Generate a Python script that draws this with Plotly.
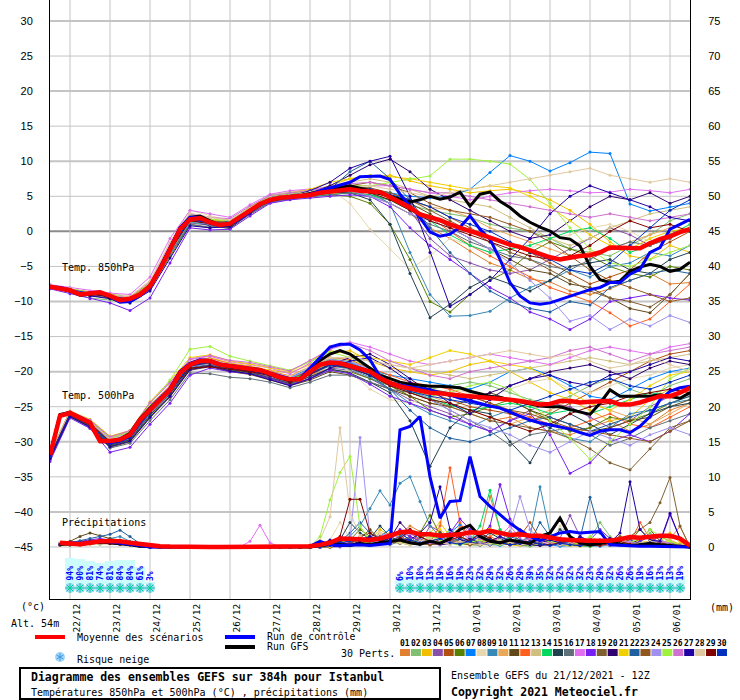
import plotly.graph_objects as go

# ---------------- DATA ----------------
H6 = list(range(0, 385, 6))      # 65 steps (temperatures of mean/control/GFS)
H12 = list(range(0, 385, 12))    # 33 steps (temperatures of perturbations)
HP = list(range(6, 385, 6))      # 64 steps (precipitation)

DATE_HOURS = [12, 36, 60, 84, 108, 132, 156, 180, 204, 228, 252, 276, 300, 324, 348, 372]
DATE_LABELS = ["22/12", "23/12", "24/12", "25/12", "26/12", "27/12", "28/12", "29/12",
               "30/12", "31/12", "01/01", "02/01", "03/01", "04/01", "05/01", "06/01"]

T850_MEAN = [-7.9,-8.1,-8.4,-9.0,-8.9,-8.7,-9.2,-9.8,-9.6,-9.0,
             -7.8,-5.4,-2.6,0.3,1.7,1.9,1.3,0.9,1.1,2.0,
             2.9,3.9,4.5,4.8,4.9,5.0,5.2,5.5,5.7,5.9,
             6.0,5.8,5.7,5.6,4.9,4.1,3.4,2.4,2.0,1.6,
             1.0,0.6,0.05,-0.4,-0.9,-1.4,-1.9,-2.2,-2.7,-3.3,
             -3.7,-4.0,-3.7,-3.5,-3.4,-3.0,-2.3,-2.3,-2.3,-2.4,
             -1.7,-1.1,-0.7,-0.1,0.3]
T850_CTRL = [-7.9,-8.0,-8.3,-9.0,-8.8,-8.6,-9.3,-10.1,-10.0,-9.2,
             -8.0,-5.2,-2.5,0.5,2.0,2.0,1.2,0.8,1.0,1.8,
             2.8,3.8,4.5,4.8,4.8,5.0,5.3,5.8,6.2,6.5,
             7.0,7.8,7.9,7.9,7.4,5.3,3.6,2.0,-0.1,-0.7,
             -0.4,0.6,2.2,0.3,-1.1,-4.0,-7.3,-9.2,-10.2,-10.4,
             -10.2,-9.7,-9.2,-8.8,-8.3,-8.0,-7.3,-7.3,-6.1,-5.4,
             -3.0,-2.3,0.3,1.0,1.7]
T850_GFS = [-7.9,-8.2,-8.5,-9.1,-9.0,-8.8,-9.4,-10.0,-9.8,-9.1,
            -7.7,-5.2,-2.4,0.5,2.0,2.2,1.5,0.8,1.0,1.9,
            2.8,3.8,4.4,4.7,5.0,5.1,5.4,5.8,6.1,6.3,
            6.5,6.2,5.8,5.4,5.0,4.6,4.2,4.5,5.0,4.6,
            4.9,5.6,3.6,5.3,5.6,4.3,3.4,2.2,1.3,0.6,
            0.05,-0.9,-1.1,-2.1,-5.0,-6.9,-7.3,-7.1,-5.7,-5.1,
            -4.7,-5.0,-5.7,-5.4,-4.4]

T500_MEAN = [-31.9,-26.3,-25.9,-26.6,-27.3,-29.9,-29.9,-29.7,-29.0,-26.9,
             -25.4,-24.0,-22.6,-20.2,-19.0,-18.5,-18.5,-19.0,-19.2,-19.4,
             -19.6,-19.8,-20.3,-20.8,-21.1,-21.1,-20.0,-19.0,-18.7,-18.8,
             -19.2,-19.6,-20.0,-20.9,-21.6,-22.1,-22.4,-22.8,-23.0,-23.1,
             -23.3,-23.4,-23.5,-23.6,-23.8,-23.9,-24.0,-24.2,-24.4,-24.7,
             -24.6,-24.2,-24.2,-24.4,-24.3,-24.2,-24.2,-24.7,-24.7,-24.4,
             -24.0,-23.5,-23.5,-23.0,-22.3]
T500_CTRL = [-32.0,-26.2,-25.8,-26.5,-27.2,-29.8,-30.1,-29.9,-29.2,-27.0,
             -25.3,-23.8,-22.4,-20.0,-18.8,-18.3,-18.4,-18.9,-19.1,-19.3,
             -19.5,-19.7,-20.2,-20.6,-21.0,-21.0,-19.5,-18.0,-16.5,-16.1,
             -16.1,-16.9,-18.3,-20.7,-21.6,-21.9,-22.1,-22.3,-22.6,-23.0,
             -23.3,-23.8,-24.2,-24.6,-24.9,-25.2,-25.8,-26.4,-26.9,-27.3,
             -27.6,-27.8,-28.2,-28.7,-29.1,-28.5,-28.3,-28.3,-28.7,-27.8,
             -26.4,-24.0,-22.8,-22.3,-22.1]
T500_GFS = [-31.9,-26.1,-25.8,-26.7,-27.4,-30.0,-30.0,-29.6,-28.8,-26.7,
            -25.2,-23.8,-22.4,-20.0,-18.9,-18.4,-18.6,-19.1,-19.3,-19.5,
            -19.7,-19.9,-20.4,-20.9,-21.2,-21.0,-19.6,-18.4,-17.5,-17.0,
            -17.5,-18.5,-19.5,-20.5,-21.0,-21.5,-21.8,-22.0,-22.1,-22.1,
            -22.2,-22.3,-22.8,-23.2,-23.5,-23.7,-24.0,-24.3,-24.6,-24.9,
            -25.0,-25.0,-25.4,-25.8,-26.1,-24.5,-22.6,-23.5,-23.5,-23.5,
            -23.5,-23.3,-23.5,-23.8,-23.0]

PR_MEAN = [0.6,0.5,0.4,0.6,0.8,0.8,0.8,0.6,0.4,0.2,
           0.1,0.05,0,0,0,0,0,0,0,0,
           0,0.05,0.05,0.05,0.05,0.1,0.3,0.6,1.2,1.2,
           1.1,1.0,1.2,1.6,2.1,2.2,1.8,1.8,1.6,1.7,
           1.8,2.1,2.0,2.3,2.0,1.7,1.8,1.6,1.6,1.3,
           1.1,1.0,0.9,0.9,0.9,0.9,1.1,1.4,1.3,1.5,
           1.6,1.6,1.2,0.2]
PR_CTRL = [0.5,0.6,0.5,0.6,0.8,0.7,0.6,0.4,0.2,0,
           0,0,0,0,0,0,0,0,0,0,
           0,0,0,0,0,0.1,0.8,0.3,0.2,0.3,
           0.3,0.2,0.3,0.5,16.7,17.2,18.6,10.0,4.1,6.5,
           6.6,12.9,7.2,5.8,4.6,3.4,2.4,1.5,0.9,1.5,
           2.0,2.2,2.0,2.1,2.2,0.3,0.2,0.1,0.1,0.1,
           0.1,0.1,0.1,0]
PR_GFS = [0.4,0.5,0.4,0.5,0.7,0.6,0.5,0.3,0.1,0,
          0,0,0,0,0,0,0,0,0,0,
          0,0,0,0,0,0,0.2,0.4,0.3,0.2,
          0.5,0.3,0.6,0.8,1.0,0.6,0.4,0.8,0.5,1.2,
          2.5,3.1,1.5,0.8,0.6,1.0,0.8,0.5,1.5,2.0,
          4.1,1.5,0.6,0.3,0.5,0.8,0.4,0.2,0.3,0.5,
          0.3,0.2,0.1,0]

PERT_LABELS = ["01","02","03","04","05","06","07","08","09","10",
               "11","12","13","14","15","16","17","18","19","20",
               "21","22","23","24","25","26","27","28","29","30"]
PERT_COLORS = ["#e08030","#80c070","#f0c000","#8850a8","#b05010","#5a8000","#0080ff","#e8d8b0","#3888b8","#e8a858",
               "#604818","#ff6020","#d0c080","#00d860","#204050","#607078","#e070f0","#7820f0","#806030","#300070",
               "#f0d000","#2060a0","#905820","#a090f0","#a0f040","#d070d0","#2000a0","#e0c8a0","#800000","#0030c0"]

T850_PERTS = [
 [-7.8,-8.3,-9.0,-9.1,-9.8,-7.6,-2.2,2.0,1.2,0.8,3.2,4.6,5.5,5.4,6.2, 6.4,5.5,4.0,2.5,0.5,-1.0,-2.8,-4.5,-5.5,-6.8,-7.2,-8.5,-9.0,-8.2,-7.0,-6.0,-7.5,-7.3],
 [-7.6,-8.6,-9.5,-9.8,-10.2,-8.3,-3.0,1.5,1.0,1.3,2.5,4.2,4.8,5.0,5.6, 5.8,5.0,4.5,3.8,3.0,2.5,2.0,1.0,0.5,0.0,-1.0,-2.5,-3.0,-3.5,-2.0,-0.5,1.5,2.5],
 [-8.0,-8.5,-8.7,-9.0,-9.4,-7.5,-2.4,2.2,1.6,1.4,3.5,5.0,5.2,5.6,6.5, 7.5,7.8,8.0,7.2,6.5,6.0,5.5,5.8,6.0,5.5,4.5,3.0,1.0,-1.5,-3.5,-4.0,-2.0,-3.0],
 [-8.1,-8.4,-9.1,-9.5,-10.0,-8.0,-3.2,1.2,0.8,0.5,2.4,4.1,4.6,5.0,5.5, 5.6,5.2,4.5,3.0,-1.0,-3.5,-4.5,-5.5,-6.0,-5.5,-4.0,-2.5,-1.0,0.5,-0.5,-2.0,-1.0,0.5],
 [-7.9,-8.2,-8.8,-9.3,-9.7,-7.9,-2.8,1.8,1.5,1.0,2.8,4.4,5.0,5.3,5.8, 6.2,6.0,5.5,4.5,3.5,2.0,0.5,-1.0,-2.0,-3.0,-4.5,-6.0,-7.5,-6.5,-5.5,-3.0,-1.5,0.0],
 [-7.7,-8.5,-9.0,-9.4,-9.9,-8.2,-3.5,1.0,0.5,0.9,2.6,4.3,4.7,5.1,5.2, 5.0,4.0,1.0,-4.0,-10.0,-11.5,-9.0,-7.0,-5.5,-3.0,-1.5,-2.5,-3.5,-5.0,-6.0,-6.5,-5.0,-5.5],
 [-7.8,-8.3,-8.9,-9.2,-9.6,-7.7,-2.3,1.9,1.4,1.5,3.3,4.9,5.0,5.4,5.9, 6.3,6.0,5.5,5.0,4.8,5.0,6.0,8.4,10.8,10.0,8.6,9.8,11.3,11.1,3.9,2.9,3.5,4.0],
 [-7.9,-8.2,-8.6,-8.9,-9.2,-7.0,-1.5,3.0,2.2,1.5,3.0,4.5,5.0,5.5,6.0, 4.0,0.3,-2.5,-5.4,-3.5,-1.0,-2.0,-3.0,-4.0,-2.5,-1.0,-0.5,0.5,1.0,0.0,-1.5,-0.5,1.0],
 [-7.8,-8.4,-8.9,-9.1,-9.8,-7.8,-2.5,1.6,1.2,1.0,2.8,4.6,4.9,5.3,5.7, 5.9,5.5,4.0,-3.0,-9.0,-12.1,-12.0,-11.4,-9.5,-8.0,-7.0,-5.5,-6.5,-5.0,-4.5,-3.0,-3.5,-2.0],
 [-8.0,-8.6,-9.0,-9.5,-9.9,-8.1,-2.9,1.4,1.1,1.2,3.1,4.7,5.2,5.0,5.4, 5.5,5.8,5.0,4.2,3.5,3.0,2.0,0.5,-0.5,-1.5,-2.5,-3.5,-3.0,-2.5,-1.5,-0.5,0.5,1.5],
 [-7.9,-8.5,-9.2,-9.4,-9.7,-7.9,-2.7,1.5,1.0,0.6,2.5,4.4,4.8,5.0,5.5, 5.8,5.5,5.0,4.0,2.5,0.5,-1.0,-2.5,-4.0,-5.5,-6.0,-7.5,-8.0,-9.5,-11.0,-11.6,-9.0,-6.0],
 [-7.8,-8.2,-8.7,-9.0,-9.5,-7.6,-2.5,1.8,1.3,1.2,3.0,4.4,4.9,5.3,5.8, 6.2,6.0,5.0,3.5,2.0,0.0,-2.0,-3.5,-5.0,-6.5,-8.0,-9.0,-10.0,-11.6,-13.5,-12.5,-10.0,-7.5],
 [-7.9,-8.3,-8.8,-9.3,-9.6,-7.4,-2.0,2.4,1.8,1.4,3.4,5.2,5.6,5.9,6.4, 7.0,7.5,7.0,6.0,5.0,4.5,4.0,3.5,2.0,0.5,-1.0,-2.0,-1.0,0.5,1.5,2.5,3.0,3.5],
 [-7.7,-8.4,-8.9,-9.3,-9.8,-8.0,-3.0,1.3,1.0,1.0,2.7,4.3,4.7,5.0,5.3, 5.5,5.2,4.5,3.0,1.5,-0.5,-2.0,-3.0,-2.5,-2.0,-1.0,0.0,0.5,-1.0,-3.0,-2.0,-0.5,1.0],
 [-7.9,-8.5,-9.1,-9.3,-9.7,-7.8,-2.6,1.6,0.8,0.4,2.6,4.5,5.0,5.2,5.6, 5.5,4.5,1.0,-6.0,-12.3,-10.4,-8.0,-6.5,-7.5,-8.5,-7.0,-5.0,-4.5,-4.0,-5.5,-6.0,-4.0,-3.0],
 [-8.0,-8.6,-9.0,-9.4,-9.9,-8.3,-3.3,1.0,0.6,0.8,2.5,4.2,4.6,4.9,5.3, 5.5,5.0,4.0,2.5,1.0,0.0,-1.5,-2.5,-3.5,-4.0,-5.0,-5.5,-4.0,-2.5,-1.5,-2.0,-1.0,0.5],
 [-7.6,-8.0,-8.5,-8.8,-9.0,-6.5,-1.0,3.0,2.5,2.0,3.8,5.3,5.8,6.0,6.3, 6.5,6.5,6.5,6.0,5.5,5.0,4.5,5.0,5.5,5.8,6.0,5.8,5.5,5.6,6.0,5.8,5.5,6.0],
 [-8.2,-8.9,-9.6,-10.2,-11.3,-9.5,-4.5,0.5,0.2,0.3,2.2,4.0,4.5,4.8,5.0, 5.2,5.0,3.5,0.5,-2.0,-4.0,-6.0,-8.0,-9.5,-11.5,-12.5,-14.0,-12.5,-10.0,-9.5,-9.0,-9.5,-9.8],
 [-7.8,-8.3,-8.9,-9.2,-9.5,-7.7,-2.4,1.8,1.3,1.1,3.0,4.7,5.1,5.4,6.0, 6.4,6.2,5.5,4.5,3.0,1.5,0.0,-1.5,-3.0,-4.0,-5.5,-7.0,-8.5,-9.5,-10.0,-10.8,-9.0,-6.0],
 [-7.9,-8.4,-9.0,-9.3,-9.6,-7.8,-2.6,1.7,1.3,1.1,2.9,4.5,5.0,5.5,6.5, 8.0,9.5,10.3,8.5,6.0,4.5,3.0,1.5,0.0,-1.0,-0.5,1.5,3.5,5.0,4.5,5.5,4.0,5.0],
 [-8.0,-8.5,-8.8,-9.1,-9.5,-7.6,-2.2,2.0,1.6,1.4,3.2,4.8,5.4,6.0,7.0, 7.5,8.0,7.8,7.5,7.0,6.5,6.0,6.5,6.2,5.0,3.5,1.5,-0.5,-2.0,-2.5,-1.0,0.0,0.5],
 [-7.8,-8.4,-8.9,-9.2,-9.7,-7.9,-2.7,1.5,1.0,1.5,3.3,4.9,5.3,5.5,6.0, 8.5,10.0,7.5,4.5,0.5,-3.0,-6.0,-8.5,-10.0,-11.0,-11.5,-10.0,-10.5,-8.0,-7.0,-6.0,-5.5,-6.0],
 [-7.9,-8.3,-8.8,-9.0,-9.4,-7.5,-2.3,1.9,1.5,1.2,3.0,4.6,5.0,5.3,5.8, 6.5,7.0,6.5,5.5,4.0,3.0,2.5,2.0,1.0,0.0,-1.5,-3.5,-5.5,-7.0,-8.0,-9.0,-10.0,-9.5],
 [-7.8,-8.4,-9.0,-9.4,-9.9,-8.0,-2.9,1.4,1.0,0.9,2.7,4.4,4.8,5.2,5.6, 5.8,5.0,4.0,2.5,1.5,0.5,-1.0,-2.5,-4.5,-7.0,-9.5,-12.8,-12.0,-14.0,-12.5,-13.5,-12.0,-13.0],
 [-7.7,-8.2,-8.7,-9.0,-9.4,-7.4,-2.1,2.1,1.7,1.6,3.4,5.0,5.4,5.8,6.2, 6.5,6.5,7.0,7.5,7.9,10.3,10.3,10.0,9.6,7.4,4.0,0.5,-2.5,-4.5,-5.0,-4.0,-3.0,-2.0],
 [-7.9,-8.4,-8.8,-9.1,-9.4,-7.2,-1.8,2.5,2.0,1.8,3.6,5.1,5.5,5.8,6.2, 6.8,7.0,6.5,6.0,5.5,5.5,5.0,4.5,4.0,3.5,3.0,2.5,2.0,2.5,2.0,1.5,2.0,2.5],
 [-7.9,-8.5,-9.2,-9.6,-10.2,-8.5,-3.8,0.8,0.5,0.7,2.6,4.5,5.0,5.8,7.0, 9.0,10.0,10.7,5.0,-3.0,-10.7,-9.0,-7.0,-4.0,-1.0,2.5,5.0,6.5,5.5,4.5,3.5,2.0,1.5],
 [-7.8,-8.3,-8.8,-9.1,-9.3,-7.1,-1.7,2.6,2.0,1.6,3.3,4.8,5.2,5.6,6.0, 6.3,6.5,6.0,5.5,5.0,5.5,6.0,6.5,7.0,7.5,8.0,8.5,9.0,8.0,7.5,7.0,7.5,7.0],
 [-7.9,-8.4,-9.0,-9.3,-9.8,-8.0,-2.8,1.5,1.1,0.9,2.8,4.5,4.9,5.2,5.7, 5.9,5.5,4.5,3.0,1.5,0.5,-0.5,-1.5,-2.5,-3.5,-4.0,-3.5,-2.0,0.0,1.5,0.5,1.0,0.0],
 [-7.8,-8.3,-8.9,-9.3,-9.7,-7.8,-2.5,1.7,1.2,1.0,2.9,4.6,5.0,5.4,5.9, 6.2,6.0,5.2,4.5,3.5,2.0,1.0,0.0,-1.5,-3.0,-4.0,-5.5,-6.0,-4.5,-2.0,0.5,3.0,4.5],
]

T500_PERTS = [
 [-32.0,-26.0,-27.5,-30.2,-29.2,-25.8,-22.8,-19.2,-18.7,-19.5,-19.8,-20.5,-21.5,-20.5,-19.5, -19.0,-20.5,-22.0,-23.5,-24.5,-25.0,-26.0,-27.0,-26.5,-28.0,-28.5,-29.0,-28.0,-27.0,-28.5,-27.5,-25.5,-24.5],
 [-32.2,-25.8,-27.0,-29.6,-28.8,-25.2,-22.3,-18.8,-18.2,-19.0,-19.4,-20.0,-20.8,-19.5,-18.2, -18.5,-19.5,-21.0,-22.0,-22.5,-22.0,-21.5,-22.0,-23.0,-24.0,-24.5,-23.5,-22.0,-21.0,-22.5,-23.5,-22.0,-21.0],
 [-31.8,-26.2,-27.4,-30.0,-29.1,-25.5,-22.5,-18.6,-18.0,-18.8,-19.2,-19.8,-20.2,-19.0,-17.5, -17.0,-18.5,-19.5,-20.0,-20.5,-20.0,-19.0,-18.5,-20.0,-21.5,-23.0,-24.0,-25.5,-27.0,-26.5,-24.0,-22.5,-23.0],
 [-32.5,-26.1,-27.6,-30.5,-29.6,-26.0,-23.1,-19.4,-19.0,-19.6,-20.0,-20.8,-21.6,-20.8,-19.5, -19.8,-21.0,-22.5,-24.0,-25.0,-26.0,-27.5,-28.5,-27.0,-25.5,-24.5,-25.0,-26.5,-28.0,-27.0,-25.0,-23.5,-22.5],
 [-31.9,-25.9,-27.2,-29.8,-29.0,-25.3,-22.5,-18.9,-18.4,-19.1,-19.5,-20.2,-21.0,-19.8,-18.5, -18.8,-20.0,-21.5,-22.5,-23.0,-24.0,-25.0,-25.5,-26.0,-27.0,-26.0,-24.5,-23.0,-21.5,-20.0,-18.5,-17.5,-17.0],
 [-32.1,-26.3,-27.8,-30.6,-29.8,-26.4,-23.4,-19.6,-19.2,-19.8,-20.2,-21.0,-21.8,-21.0,-19.8, -20.0,-21.0,-22.0,-23.5,-25.5,-26.5,-26.0,-25.0,-24.0,-25.5,-27.0,-28.5,-28.0,-26.5,-27.0,-26.0,-24.5,-23.5],
 [-31.8,-25.9,-27.1,-29.6,-28.8,-25.0,-22.2,-18.7,-18.3,-19.0,-19.5,-20.0,-20.8,-19.6,-18.3, -18.7,-19.8,-20.5,-21.0,-21.5,-22.0,-22.5,-21.5,-20.0,-19.5,-20.5,-22.0,-23.5,-24.0,-22.5,-21.0,-20.0,-19.5],
 [-32.0,-26.0,-27.5,-30.1,-29.0,-25.6,-22.6,-19.0,-18.6,-19.3,-19.6,-20.2,-21.2,-20.0,-18.5, -20.0,-22.5,-24.0,-24.5,-23.5,-22.5,-23.0,-23.5,-22.5,-21.5,-21.0,-22.5,-23.0,-22.0,-21.0,-20.5,-19.5,-19.0],
 [-32.3,-26.2,-27.7,-30.4,-29.5,-25.9,-22.9,-19.3,-18.8,-19.4,-19.8,-20.6,-21.4,-20.4,-19.2, -19.6,-20.8,-22.5,-24.5,-26.0,-27.0,-28.0,-26.5,-25.5,-27.0,-28.0,-29.5,-30.0,-28.0,-26.0,-25.5,-24.5,-24.0],
 [-31.9,-26.0,-27.3,-29.9,-29.1,-25.4,-22.7,-19.0,-18.5,-19.2,-19.7,-20.4,-21.1,-20.1,-18.8, -19.3,-20.2,-21.5,-22.5,-23.5,-24.5,-25.5,-26.5,-27.5,-26.5,-25.5,-24.0,-24.5,-25.5,-26.5,-27.5,-26.0,-24.5],
 [-32.4,-26.4,-27.9,-30.8,-30.0,-26.6,-23.6,-19.8,-19.3,-20.0,-20.4,-21.2,-22.0,-21.2,-20.0, -20.5,-21.5,-22.5,-23.5,-24.5,-25.0,-24.0,-23.0,-24.0,-25.5,-26.5,-27.5,-28.5,-28.0,-27.0,-26.5,-25.0,-24.0],
 [-31.7,-25.8,-27.0,-29.4,-28.6,-24.8,-22.0,-18.6,-18.1,-18.9,-19.3,-19.9,-20.6,-19.3,-18.0, -18.3,-19.5,-20.5,-21.5,-22.0,-22.5,-23.5,-24.5,-25.5,-26.5,-27.5,-28.0,-27.0,-26.0,-27.5,-28.0,-26.5,-25.0],
 [-31.8,-26.1,-27.2,-29.7,-28.9,-25.2,-22.4,-18.8,-18.3,-19.1,-19.5,-20.1,-20.7,-19.4,-18.1, -18.0,-18.5,-19.0,-19.5,-20.0,-20.5,-21.0,-20.5,-20.0,-19.5,-19.0,-18.5,-18.0,-18.5,-19.0,-18.5,-18.0,-17.5],
 [-32.0,-26.0,-27.4,-30.0,-29.0,-25.5,-22.6,-19.0,-18.5,-19.3,-19.7,-20.3,-21.1,-20.0,-18.7, -19.2,-20.3,-21.8,-22.8,-23.8,-24.8,-25.5,-25.0,-24.5,-25.0,-26.0,-25.5,-26.0,-25.0,-24.0,-23.0,-23.5,-22.5],
 [-32.3,-26.3,-27.8,-30.5,-29.7,-26.2,-23.2,-19.5,-19.1,-19.7,-20.1,-20.9,-21.7,-20.7,-19.6, -20.2,-21.5,-23.0,-27.0,-33.5,-28.0,-25.5,-26.0,-30.0,-33.0,-28.0,-26.0,-27.5,-29.0,-27.5,-26.0,-25.0,-24.5],
 [-32.6,-26.5,-28.0,-30.9,-30.2,-27.0,-24.0,-20.2,-20.3,-20.8,-21.0,-21.5,-22.3,-21.5,-20.5, -20.5,-21.5,-22.5,-23.0,-24.0,-25.5,-27.0,-28.5,-30.5,-29.0,-28.5,-28.0,-29.0,-30.5,-29.5,-28.0,-27.0,-26.0],
 [-31.7,-25.7,-26.9,-29.3,-28.5,-24.5,-21.5,-18.3,-17.8,-18.6,-19.0,-19.5,-20.3,-18.8,-16.5, -15.8,-16.5,-17.5,-18.5,-19.0,-18.5,-18.0,-17.5,-18.0,-18.5,-19.0,-18.0,-17.0,-16.5,-17.0,-17.5,-16.5,-16.0],
 [-32.8,-26.6,-28.1,-31.5,-30.8,-27.5,-24.5,-20.5,-19.5,-20.0,-20.3,-21.0,-21.9,-21.0,-19.8, -20.3,-21.8,-23.5,-24.5,-25.5,-26.5,-27.5,-28.5,-27.0,-26.0,-29.0,-34.5,-33.0,-30.0,-29.0,-30.0,-28.5,-26.0],
 [-32.0,-26.1,-27.5,-30.1,-29.3,-25.7,-22.8,-19.1,-18.6,-19.3,-19.7,-20.4,-21.3,-20.2,-18.9, -19.4,-20.6,-22.0,-23.0,-24.0,-25.0,-26.0,-27.0,-27.5,-28.0,-28.5,-29.5,-31.0,-33.0,-34.0,-31.0,-28.0,-27.0],
 [-32.2,-26.2,-27.6,-30.3,-29.4,-25.8,-22.9,-19.2,-18.7,-19.5,-19.9,-20.5,-21.3,-20.3,-19.0, -18.0,-17.5,-19.0,-21.0,-23.0,-23.5,-24.0,-23.0,-22.0,-21.0,-20.0,-19.5,-19.0,-20.0,-21.0,-19.5,-18.5,-19.0],
 [-31.6,-25.6,-26.8,-29.2,-28.4,-24.3,-21.3,-18.0,-17.6,-18.5,-18.9,-19.4,-20.0,-18.5,-17.0, -17.5,-18.0,-18.5,-19.0,-18.0,-17.0,-17.5,-18.5,-19.0,-19.5,-21.0,-23.0,-24.5,-25.5,-24.0,-22.0,-20.5,-20.0],
 [-32.1,-26.1,-27.6,-30.2,-29.3,-25.7,-22.8,-19.1,-18.6,-19.4,-19.8,-20.5,-21.4,-20.4,-19.1, -19.5,-20.5,-22.5,-25.5,-28.0,-29.5,-30.0,-29.0,-28.0,-27.0,-26.5,-27.5,-28.5,-27.5,-26.5,-25.5,-24.5,-23.5],
 [-31.9,-25.9,-27.3,-29.9,-29.0,-25.4,-22.5,-18.9,-18.4,-19.2,-19.6,-20.2,-21.0,-19.9,-18.6, -19.1,-20.0,-21.0,-22.0,-22.5,-23.0,-23.5,-24.5,-25.5,-26.0,-27.0,-28.0,-28.5,-29.0,-29.5,-30.0,-28.5,-27.0],
 [-31.8,-25.9,-27.2,-29.8,-28.9,-25.3,-22.4,-18.8,-18.4,-19.1,-19.5,-20.1,-20.9,-19.7,-18.3, -18.6,-19.6,-21.0,-22.5,-24.0,-25.5,-27.0,-28.0,-29.0,-30.5,-31.5,-30.0,-28.5,-29.5,-30.5,-29.0,-28.0,-29.0],
 [-31.6,-25.7,-26.9,-29.4,-28.6,-24.6,-21.2,-16.8,-16.4,-17.8,-18.5,-19.2,-19.8,-18.6,-17.2, -18.0,-19.5,-21.0,-22.5,-23.5,-23.0,-22.0,-21.5,-22.5,-24.5,-27.0,-29.5,-32.5,-30.0,-27.5,-25.0,-21.0,-19.5],
 [-31.7,-25.7,-26.9,-29.3,-28.4,-24.4,-21.6,-18.2,-17.7,-18.4,-18.7,-19.3,-19.9,-18.4,-16.8, -16.0,-17.0,-18.5,-19.5,-20.5,-21.0,-20.0,-19.5,-19.0,-18.5,-18.0,-17.0,-16.5,-17.5,-18.5,-17.5,-17.0,-16.5],
 [-32.4,-26.4,-27.9,-30.7,-29.9,-26.5,-23.5,-19.7,-19.2,-19.9,-20.3,-21.1,-22.0,-21.0,-19.5, -18.5,-18.0,-19.5,-21.5,-22.5,-24.5,-26.0,-24.0,-22.0,-21.0,-20.5,-21.5,-22.0,-20.5,-20.0,-19.0,-18.0,-18.5],
 [-31.8,-25.8,-27.1,-29.6,-28.8,-25.0,-22.2,-18.6,-18.2,-19.0,-19.4,-20.0,-20.7,-19.3,-18.0, -18.0,-18.5,-19.0,-19.5,-19.0,-18.5,-18.0,-17.5,-17.0,-17.5,-18.0,-17.5,-18.5,-19.5,-19.0,-18.0,-19.0,-20.0],
 [-32.0,-26.0,-27.4,-30.0,-29.1,-25.5,-22.6,-19.5,-19.3,-19.6,-20.0,-20.6,-21.5,-20.4,-19.0, -19.5,-20.5,-22.0,-23.0,-24.0,-24.5,-25.5,-26.5,-27.5,-28.5,-27.5,-26.0,-25.0,-24.5,-23.5,-23.0,-22.5,-23.0],
 [-32.1,-26.1,-27.5,-30.2,-29.3,-25.7,-22.8,-19.1,-18.6,-19.4,-19.8,-20.5,-21.3,-20.3,-19.0, -19.4,-20.5,-21.8,-22.8,-23.5,-24.0,-24.5,-25.0,-25.5,-24.5,-23.5,-22.5,-21.5,-21.0,-22.0,-22.5,-21.5,-20.5],
]

PR_PERTS = [
 [0.4,0.3,0.2,0.4,0.6,0.5,0.7,0.4,0.2,0, 0,0,0,0,0,0,0,0,0,0, 0,0,0,0,0,0,0.2,0.5,0.3,0.8,
  1.5,2.0,1.2,0.6,1.8,3.0,2.2,1.0,0.6,1.5, 2.8,1.5,1.0,7.2,2.5,1.0,0.5,1.2,0.8,0.3, 0.5,1.0,0.6,0.3,0.2,0.5,1.0,0.6,0.4,0.8, 1.5,1.2,2.9,0],
 [0.3,0.2,0.3,0.5,0.4,0.6,0.5,0.3,0.1,0, 0,0,0,0,0,0,0,0,0,0, 0,0,0,0,0,0,0,0.3,0.6,1.0,
  0.8,0.5,1.5,2.5,1.2,0.8,0.5,0.3,0.8,1.2, 0.6,0.3,0.2,0.5,1.0,0.4,0.2,0.1,0.3,0.6, 0.3,0.2,0.5,1.2,3.5,1.5,0.6,0.3,0.8,2.0, 1.0,0.5,0.2,0],
 [0.5,0.6,0.8,1.0,0.9,0.7,0.6,0.4,0.2,0, 0,0,0,0,0,0,0,0,0,0, 0,0,0,0,0,0,0,0,0.2,0.5,
  0.3,1.0,2.5,1.5,0.8,0.5,1.2,2.0,3.5,1.5, 0.8,0.5,1.5,2.8,1.2,0.6,0.3,0.8,1.5,0.6, 0.3,0.2,0.1,0.3,0.6,0.4,0.2,0.5,1.0,0.5, 0.8,2.0,0.6,0],
 [0.2,0.3,0.3,0.5,0.6,0.5,0.8,0.6,0.3,0.1, 0,0,0,0,0,0,0,0,0,0, 0,0,0,0,0,0,0,0,0,0.3,
  0.8,1.5,0.6,1.2,2.0,1.0,0.5,3.0,2.2,1.0, 0.5,0.8,1.8,1.0,0.5,0.3,0.6,1.5,0.8,0.3, 1.2,4.5,1.5,0.6,0.3,0.2,0.5,0.8,0.4,0.2, 0.3,0.6,0.2,0],
 [0.4,0.5,0.4,0.6,0.8,0.7,0.5,0.4,0.2,0, 0,0,0,0,0,0,0,0,0,0, 0,0,0,0,0,0,0.1,0.4,0.8,0.6,
  1.2,0.8,2.0,1.5,0.6,0.3,0.5,1.2,0.8,0.4, 1.0,2.5,1.2,0.6,0.3,0.5,1.5,3.5,1.2,0.5, 0.3,0.6,0.2,0.1,0.3,0.5,1.0,0.6,0.3,0.8, 1.5,0.8,0.3,0],
 [0.3,0.4,0.5,0.7,0.6,0.5,0.4,0.3,0.1,0, 0,0,0,0,0,0,0,0,0,0, 0,0,0,0,0,0,0,0.2,0.5,1.0,
  2.5,1.5,0.8,0.5,1.0,0.6,2.0,4.5,1.8,0.6, 0.3,1.0,0.5,0.3,0.8,2.2,0.8,0.4,0.2,0.5, 0.8,0.4,1.2,0.6,0.3,0.5,0.2,0.8,2.5,1.0, 0.5,0.3,0.1,0],
 [0.5,0.4,0.6,0.8,1.0,0.8,0.6,0.5,0.2,0, 0,0,0,0,0,0,0,0,0,0, 0,0,0,0,0,0,0,0,0.3,0.2,
  0.5,0.8,1.5,2.5,1.0,0.6,0.3,0.8,1.2,2.0, 3.2,1.5,0.6,0.4,0.2,0.5,0.3,0.2,0.6,0.3, 0.1,0.2,0.4,0.2,0.1,0.3,0.5,0.3,0.2,0.4, 0.6,0.3,0.1,0],
 [0.6,0.5,0.4,0.5,0.7,0.6,0.5,0.3,0.1,0, 0,0,0,0,0,0,0,0,0,0, 0,0,0,0,0,0,0.3,1.0,3.5,1.2,
  0.5,0.8,2.0,1.5,0.6,0.3,0.8,1.2,0.6,0.4, 1.0,1.8,0.8,0.5,0.3,1.2,0.6,0.3,0.2,0.5, 3.0,1.2,0.5,0.3,0.2,0.6,0.4,0.2,0.3,0.8, 0.5,0.2,0.1,0],
 [0.4,0.3,0.5,0.6,0.9,1.2,1.5,0.8,0.3,0, 0,0,0,0,0,0,0,0,0,0, 0,0,0,0,0,0,0,0.2,0.6,1.5,
  3.0,5.5,8.0,6.0,9.1,10.0,6.5,3.0,1.5,0.8, 0.5,1.0,2.0,1.2,0.6,0.3,0.8,1.5,8.6,2.0, 0.8,0.4,0.2,0.6,1.0,0.5,0.3,0.2,0.4,0.8, 0.5,0.3,0.1,0],
 [0.3,0.4,0.3,0.5,0.6,0.7,0.5,0.4,0.2,0, 0,0,0,0,0,0,0,0,0,0, 0,0,0,0,0,0,0.2,0.5,0.3,0.6,
  1.0,1.5,0.8,0.4,1.2,2.5,1.5,0.8,0.5,1.0, 0.6,0.3,0.8,1.5,2.2,1.0,0.5,0.8,0.4,0.2, 0.5,1.2,0.6,0.3,0.2,0.8,1.5,0.6,0.3,0.2, 0.6,1.0,0.4,0],
 [0.5,0.8,1.5,2.0,1.6,1.2,1.0,0.6,0.3,0, 0,0,0,0,0,0,0,0,0,0, 0,0,0,0,0,0,0,0.2,0.8,0.5,
  1.2,2.5,1.0,0.6,1.5,0.8,0.4,1.0,2.0,1.2, 0.6,0.3,0.8,0.5,0.3,1.0,2.5,1.2,0.6,0.3, 0.5,0.8,0.4,0.2,0.6,1.0,0.5,0.3,1.2,2.5, 0.8,0.4,0.2,0],
 [0.3,0.3,0.4,0.5,0.6,0.5,0.6,0.4,0.2,0, 0,0,0,0,0,0,0,0,0,0, 0,0,0,0,0,0,0,0,0.2,0.5,
  0.8,1.2,0.6,1.0,2.2,1.5,1.0,0.8,3.0,11.3, 3.5,1.2,0.6,1.5,0.8,0.4,0.3,0.8,1.2,0.6, 0.3,0.5,1.5,0.8,0.4,0.2,0.3,0.6,3.5,1.2, 0.6,0.3,0.2,0],
 [0.4,0.5,0.6,0.5,0.4,0.5,0.4,0.3,0.1,0, 0,0,0,0,0,0,0,0,0,0, 0,0,0,0,0,0,0,0.3,0.2,0.5,
  0.8,0.5,1.2,0.8,0.5,1.0,0.6,0.3,0.5,0.8, 1.5,0.8,0.4,0.2,0.5,0.3,0.2,0.6,1.0,0.5, 0.3,0.2,0.4,0.8,0.5,0.3,0.2,0.1,0.3,0.5, 0.8,0.4,0.2,0],
 [0.3,0.4,0.4,0.6,0.7,0.6,0.5,0.3,0.2,0, 0,0,0,0,0,0,0,0,0,0, 0,0,0,0,0,0,0,0,0.3,0.6,
  1.0,0.6,0.8,1.5,0.8,0.5,1.2,2.0,1.0,2.5, 1.5,0.8,3.0,8.1,2.5,1.0,0.5,0.3,0.8,0.5, 0.3,0.6,0.2,0.1,0.4,0.2,0.5,0.3,0.2,0.6, 0.3,0.2,0.1,0],
 [0.5,0.4,0.5,0.7,0.8,0.6,0.5,0.4,0.2,0, 0,0,0,0,0,0,0,0,0,0, 0,0,0,0,0,0,0,0.3,1.0,3.5,
  2.0,1.2,3.0,1.5,0.8,2.5,1.5,0.6,0.4,1.2, 0.8,0.5,1.0,2.0,1.2,0.6,0.3,0.5,1.0,0.6, 2.5,1.5,0.8,0.4,0.3,0.2,0.5,1.0,0.5,0.3, 0.2,0.5,0.3,0],
 [0.4,0.4,0.5,0.6,0.5,0.6,0.5,0.3,0.1,0, 0,0,0,0,0,0,0,0,0,0, 0,0,0,0,0,0,0,0.2,0.5,0.3,
  0.6,1.0,0.5,0.3,0.8,1.5,0.8,0.4,0.6,1.2, 0.8,0.5,0.3,0.6,1.5,1.0,0.5,0.3,0.2,0.6, 1.0,0.5,0.3,0.2,0.4,0.8,0.5,0.3,0.2,0.4, 0.3,0.2,0.1,0],
 [0.3,0.4,0.5,0.6,0.7,0.5,0.4,0.3,0.1,0, 0,0,0,0,0,0,0,0,0,0.8, 3.1,0.6,0,0,0,0,0,0.2,0.5,0.8,
  1.0,0.6,1.5,2.0,1.2,0.8,0.5,0.3,0.6,1.0, 2.0,1.2,0.8,0.5,1.5,3.0,1.2,0.6,0.3,0.5, 0.8,0.5,0.3,0.6,1.0,0.5,0.3,0.2,0.4,0.6, 0.3,0.2,0.1,0],
 [0.5,0.6,0.8,1.0,1.2,1.0,0.8,0.5,0.2,0, 0,0,0,0,0,0,0,0,0,0, 0,0,0,0,0,0,0,0,0.3,0.5,
  1.2,0.8,0.5,1.0,2.5,1.5,0.8,0.5,1.0,2.0, 4.0,2.5,1.5,3.0,8.9,4.0,2.0,1.0,0.6,0.3, 0.5,0.8,0.4,1.0,2.5,1.2,0.6,0.3,0.8,1.5, 0.6,4.6,1.2,0],
 [0.4,0.5,0.6,0.8,0.7,0.6,0.5,0.3,0.2,0, 0,0,0,0,0,0,0,0,0,0, 0,0,0,0,0,0,0,0.2,0.4,0.3,
  0.6,0.8,1.5,0.8,0.5,1.0,0.6,0.3,0.5,0.8, 1.2,0.6,0.3,0.5,1.0,0.6,0.3,0.2,0.5,0.8, 0.4,0.3,0.6,1.0,0.5,0.3,0.8,1.5,2.5,3.5, 6.3,9.9,3.0,0],
 [0.3,0.3,0.4,0.5,0.6,0.5,0.4,0.3,0.1,0, 0,0,0,0,0,0,0,0,0,0, 0,0,0,0,0,0,0,0,0.2,0.6,
  1.0,1.5,0.8,1.2,3.5,2.0,1.0,0.6,0.3,0.5, 0.8,1.2,0.6,0.3,0.5,1.0,0.6,0.3,0.2,0.4, 0.6,0.3,0.2,0.5,0.8,1.2,0.6,0.3,0.2,0.4, 0.6,0.3,0.1,0],
 [0.4,0.5,0.5,0.6,0.8,0.7,0.6,0.4,0.2,0, 0,0,0,0,0,0,0,0,0,0, 0,0,0,0,0,0,0,0,0.5,1.2,
  0.8,0.5,1.0,2.0,1.5,0.8,0.5,1.0,2.5,1.2, 0.6,0.3,0.5,1.0,0.6,0.3,0.2,0.8,1.5,0.8, 0.4,0.2,0.5,0.3,0.2,0.6,1.0,0.5,0.3,0.2, 0.5,0.8,0.3,0],
 [0.5,0.6,0.9,1.2,1.5,1.8,2.4,1.5,0.5,0.1, 0,0,0,0,0,0,0,0,0,0, 0,0,0,0,0,0,0,0.3,0.8,2.0,
  3.5,2.0,1.2,0.8,1.5,2.5,1.0,0.6,0.4,0.8, 1.2,0.8,0.5,0.3,0.6,1.5,1.0,0.6,3.5,1.5, 0.8,0.5,1.2,7.1,2.0,0.8,0.4,0.3,0.6,0.4, 0.3,0.2,0.1,0],
 [0.3,0.4,0.5,0.6,0.5,0.5,0.4,0.3,0.1,0, 0,0,0,0,0,0,0,0,0,0, 0,0,0,0,0,0,0,0.2,0.3,0.6,
  1.0,0.6,0.4,0.8,1.2,0.8,0.5,0.3,0.6,0.8, 0.5,0.3,0.6,1.0,0.8,0.5,0.3,0.6,1.0,0.5, 0.3,0.6,0.4,0.2,0.5,0.8,1.5,0.8,0.5,0.3, 0.6,0.4,0.2,0],
 [0.4,0.5,0.6,0.7,0.8,0.6,0.5,0.3,0.1,0, 0,0,0,0,0,0,0,0,0,0, 0,0,0,0,0,0,0,0.2,0.3,1.0,
  15.6,1.5,0.8,0.6,1.2,0.8,0.5,1.0,0.6,0.4, 0.8,1.5,0.6,0.3,1.0,2.0,7.2,2.5,1.0,0.5, 0.3,0.6,1.0,0.5,0.3,0.2,0.5,0.8,0.4,0.6, 1.0,0.5,0.2,0],
 [0.3,0.3,0.4,0.5,0.6,0.5,0.4,0.3,0.1,0, 0,0,0,0,0,0,0,0,0,0, 0,0,0,0,0,0,1.5,6.7,10.6,12.9,
  3.0,0.8,0.5,1.0,0.6,0.4,0.8,1.5,1.0,0.5, 0.3,0.6,1.0,0.5,0.3,0.6,0.4,0.2,0.5,0.8, 0.4,0.3,0.6,1.5,0.8,0.4,0.3,0.6,1.2,2.5, 1.5,0.8,0.3,0],
 [0.4,0.4,0.5,0.6,0.7,0.6,0.5,0.4,0.2,0, 0,0,0,0,0,0,0,0,0,0, 0,0,0,0,0,0,0,0.3,0.5,0.8,
  1.5,1.0,0.6,0.8,1.2,2.0,1.0,0.6,0.4,0.8, 1.5,3.0,1.2,0.8,0.5,0.3,0.6,1.2,0.8,0.5, 0.3,0.5,0.8,0.4,0.2,0.6,1.0,0.6,0.3,0.5, 0.8,0.4,0.2,0],
 [0.4,0.5,0.6,0.8,0.9,0.7,0.6,0.4,0.2,0, 0,0,0,0,0,0,0,0,0,0, 0,0,0,0,0,0,0.3,1.0,0.6,0.3,
  0.8,1.5,1.0,0.6,1.2,1.0,2.0,3.5,8.6,2.5, 1.0,0.6,0.3,0.8,1.5,0.8,0.5,0.3,0.6,1.0, 0.6,0.4,1.5,0.8,0.4,0.6,2.0,9.3,2.5,1.0, 0.8,4.8,1.2,0],
 [0.5,0.4,0.5,0.6,0.5,0.6,0.5,0.3,0.1,0, 0,0,0,0,0,0,0,0,0,0, 0,0,0,0,0,0.3,1.0,4.3,17.0,5.0,
  1.5,0.8,0.5,1.0,0.6,0.4,0.8,1.2,0.6,0.4, 0.8,0.5,0.3,0.6,1.0,0.6,0.3,0.5,0.8,0.4, 0.3,0.5,0.8,0.4,0.2,0.4,0.6,0.3,0.5,0.8, 0.4,0.3,0.1,0],
 [0.3,0.4,0.5,0.5,0.6,0.5,0.4,0.3,0.1,0, 0,0,0,0,0,0,0,0,0,0, 0,0,0,0,0,0.2,0.3,0.5,1.5,6.8,
  6.8,2.0,1.0,0.6,1.2,2.5,1.5,0.8,0.5,1.0, 1.5,0.8,2.0,1.2,0.6,0.3,0.5,0.8,0.4,0.3, 0.6,1.0,0.5,0.3,0.2,0.5,0.8,0.4,0.3,0.6, 0.4,0.3,0.1,0],
 [0.4,0.5,0.5,0.7,0.8,0.6,0.5,0.4,0.2,0, 0,0,0,0,0,0,0,0,0,0, 0,0,0,0,0,0,0,0.2,0.5,0.8,
  1.2,0.8,0.5,1.5,2.0,1.0,0.6,0.8,1.2,0.6, 0.4,0.8,1.5,1.0,0.6,0.3,0.5,0.8,0.4,0.2, 0.5,0.3,0.2,0.6,1.0,0.5,0.3,0.2,0.4,0.6, 0.3,0.2,0.1,0],
]

SNOW1_HOURS = [12, 18, 24, 30, 36, 42, 48, 54, 60]
SNOW1_PCT = [94, 90, 81, 74, 81, 84, 84, 61, 3]
SNOW2_HOURS = list(range(210, 379, 6))
SNOW2_PCT = [6, 10, 10, 13, 19, 16, 19, 23, 32, 29, 32, 26, 29, 39, 35,
             32, 32, 32, 32, 23, 29, 32, 26, 26, 19, 16, 13, 13, 19]

for arr in [T850_MEAN, T850_CTRL, T850_GFS, T500_MEAN, T500_CTRL, T500_GFS]:
    assert len(arr) == 65, len(arr)
for arr in [PR_MEAN, PR_CTRL, PR_GFS] + PR_PERTS:
    assert len(arr) == 64, len(arr)
for arr in T850_PERTS + T500_PERTS:
    assert len(arr) == 33, len(arr)
assert len(SNOW2_HOURS) == len(SNOW2_PCT)

# ---------------- LAYOUT GEOMETRY ----------------
PL, PR_, PT, PB = 50, 690, 0, 599          # plot box in pixels
Y_HI, Y_LO = 32.99, -52.42
Y2_HI, Y2_LO = Y_HI + 45, Y_LO + 45
MONO = "DejaVu Sans Mono"
FLAKE_FILL = "#9fd8f8"
FLAKE_LINE = "#3f96e0"

def px_x(px):
    return (px - PL) / (PR_ - PL)

def px_y(py):
    return (PB - py) / (PB - PT)

def y2_at(py):
    return Y2_HI - (py - PT) * (Y2_HI - Y2_LO) / (PB - PT)

fig = go.Figure()

# perturbations
for k in range(30):
    c = PERT_COLORS[k]
    common = dict(mode="lines+markers", line=dict(color=c, width=1),
                  marker=dict(size=3, color=c), hoverinfo="skip", showlegend=False)
    fig.add_trace(go.Scatter(x=HP, y=PR_PERTS[k], yaxis="y2", **common))
    fig.add_trace(go.Scatter(x=H12, y=T500_PERTS[k], yaxis="y", **common))
    fig.add_trace(go.Scatter(x=H12, y=T850_PERTS[k], yaxis="y", **common))

def main_series(color, width, t850, t500, pr):
    s = dict(mode="lines", line=dict(color=color, width=width), hoverinfo="skip", showlegend=False)
    fig.add_trace(go.Scatter(x=H6, y=t850, yaxis="y", **s))
    fig.add_trace(go.Scatter(x=H6, y=t500, yaxis="y", **s))
    fig.add_trace(go.Scatter(x=HP, y=pr, yaxis="y2", **s))

main_series("#000000", 3, T850_GFS, T500_GFS, PR_GFS)
main_series("#0000ff", 3, T850_CTRL, T500_CTRL, PR_CTRL)
main_series("#ff0000", 4.5, T850_MEAN, T500_MEAN, PR_MEAN)

# snow risk bars (height grows with the probability, at least a thin band)
BAR_BASE = y2_at(584)
UNIT_PER_PX = (Y2_HI - Y2_LO) / (PB - PT)
for hrs, pct in [(SNOW1_HOURS, SNOW1_PCT), (SNOW2_HOURS, SNOW2_PCT)]:
    heights = [(max(p * 0.28, 8) if p >= 5 else p * 0.28 + 1) * UNIT_PER_PX for p in pct]
    fig.add_trace(go.Bar(x=hrs, y=heights, base=BAR_BASE, width=6,
                         yaxis="y2", marker=dict(color="#ccfcfc", line=dict(width=0)),
                         hoverinfo="skip", showlegend=False))

all_snow_hours = SNOW1_HOURS + SNOW2_HOURS
flake_y = [y2_at(588)] * len(all_snow_hours)
fig.add_trace(go.Scatter(x=all_snow_hours, y=flake_y, yaxis="y2", mode="markers",
                         marker=dict(symbol="circle", size=10, color=FLAKE_FILL),
                         hoverinfo="skip", showlegend=False))
fig.add_trace(go.Scatter(x=all_snow_hours, y=flake_y, yaxis="y2", mode="markers",
                         marker=dict(symbol="asterisk-open", size=8, line=dict(color=FLAKE_LINE, width=1)),
                         hoverinfo="skip", showlegend=False))

# ---------------- SHAPES ----------------
shapes = []
for v in range(-45, 31, 5):
    if v == 0:
        col, w = "#8c8c8c", 2
    elif v % 10 == 0:
        col, w = "#c4c4c4", 2
    else:
        col, w = "#c4c4c4", 1
    shapes.append(dict(type="line", xref="paper", yref="y", x0=0, x1=1, y0=v, y1=v,
                       line=dict(color=col, width=w), layer="below"))
for h in DATE_HOURS:
    shapes.append(dict(type="line", xref="x", yref="paper", x0=h, x1=h, y0=0, y1=1,
                       line=dict(color="#c4c4c4", width=1), layer="below"))

def seg_px(x0, y0, x1, y1, color, w):
    shapes.append(dict(type="line", xref="paper", yref="paper", x0=px_x(x0), x1=px_x(x1),
                       y0=px_y(y0), y1=px_y(y1), line=dict(color=color, width=w)))

seg_px(35, 637, 65, 637, "#ff0000", 4)
seg_px(225, 637, 255, 637, "#0000ff", 4)
seg_px(225, 647, 255, 647, "#000000", 4)

# legend snowflake
shapes.append(dict(type="circle", xref="paper", yref="paper", x0=px_x(55), x1=px_x(65),
                   y0=px_y(662), y1=px_y(652), fillcolor=FLAKE_FILL, line=dict(width=0)))
seg_px(60, 653, 60, 661, FLAKE_LINE, 1)
seg_px(56.5, 655, 63.5, 659, FLAKE_LINE, 1)
seg_px(56.5, 659, 63.5, 655, FLAKE_LINE, 1)

for i, c in enumerate(PERT_COLORS):
    x0 = 400 + i * 10.93
    shapes.append(dict(type="rect", xref="paper", yref="paper", x0=px_x(x0), x1=px_x(x0 + 10),
                       y0=px_y(656), y1=px_y(649), fillcolor=c, line=dict(width=0)))

shapes.append(dict(type="rect", xref="paper", yref="paper", x0=px_x(20), x1=px_x(440),
                   y0=px_y(699), y1=px_y(668), line=dict(color="black", width=2)))

# ---------------- ANNOTATIONS ----------------
ann = []

def text_px(x, y, s, size=10, bold=False, xanchor="left", color="black"):
    ann.append(dict(xref="paper", yref="paper", x=px_x(x), y=px_y(y), text=("<b>%s</b>" % s) if bold else s,
                    showarrow=False, xanchor=xanchor, yanchor="middle",
                    font=dict(family=MONO, size=size, color=color)))

text_px(60, 267, "Temp. 850hPa")
text_px(60, 395, "Temp. 500hPa")
text_px(60, 522, "Précipitations")
text_px(19, 606, "(°c)")
text_px(9, 623, "Alt. 54m")
text_px(708, 607, "(mm)")
text_px(75, 637, "Moyenne des scénarios")
text_px(265, 636, "Run de contrôle", size=9.8)
text_px(265, 647, "Run GFS", size=9.8)
text_px(75, 659, "Risque neige")
text_px(339, 653, "30 Perts.")
text_px(29, 677, "Diagramme des ensembles GEFS sur 384h pour Istanbul", size=11.5, bold=True)
text_px(29, 692, "Températures 850hPa et 500hPa (°C) , précipitations (mm)")
text_px(449, 675, "Ensemble GEFS du 21/12/2021 - 12Z")
text_px(449, 692, "Copyright 2021 Meteociel.fr", size=11.5, bold=True)

for i, lab in enumerate(PERT_LABELS):
    text_px(400 + i * 10.93 + 5, 643, lab, size=8, bold=True, xanchor="center")

for h, lab in zip(DATE_HOURS, DATE_LABELS):
    ann.append(dict(xref="x", yref="paper", x=h, y=px_y(602), text=lab, showarrow=False,
                    textangle=-90, xanchor="center", yanchor="top", xshift=6,
                    font=dict(family=MONO, size=9.5, color="black")))

for hrs, pct in [(SNOW1_HOURS, SNOW1_PCT), (SNOW2_HOURS, SNOW2_PCT)]:
    for h, p in zip(hrs, pct):
        ann.append(dict(xref="x", yref="paper", x=h, y=px_y(583), text="<b>%d%%</b>" % p,
                        showarrow=False, textangle=-90, xanchor="center", yanchor="bottom",
                        font=dict(family=MONO, size=8, color="#0000ff")))

axis_font = dict(family="Liberation Sans", size=11, color="black")
fig.update_layout(
    width=740, height=700,
    margin=dict(l=PL, r=740 - PR_, t=PT, b=700 - PB, pad=0),
    paper_bgcolor="white", plot_bgcolor="white",
    showlegend=False, bargap=0,
    xaxis=dict(range=[0, 384], showgrid=False, zeroline=False, showticklabels=False, ticks="",
               showline=True, linecolor="black", linewidth=1, fixedrange=True),
    yaxis=dict(range=[Y_LO, Y_HI], tickvals=list(range(-45, 31, 5)), showgrid=False, zeroline=False,
               ticks="outside", ticklen=14, tickcolor="rgba(0,0,0,0)", showline=True,
               linecolor="black", linewidth=1, tickfont=axis_font, fixedrange=True),
    yaxis2=dict(range=[Y2_LO, Y2_HI], tickvals=list(range(0, 76, 5)), overlaying="y", side="right",
                showgrid=False, zeroline=False, ticks="outside", ticklen=15,
                tickcolor="rgba(0,0,0,0)", showline=True, linecolor="black", linewidth=1,
                tickfont=axis_font, fixedrange=True),
    shapes=shapes, annotations=ann,
)

fig.write_html("out.html", config={"displayModeBar": False},
               post_script="document.body.style.margin='0';document.body.style.padding='0';")
